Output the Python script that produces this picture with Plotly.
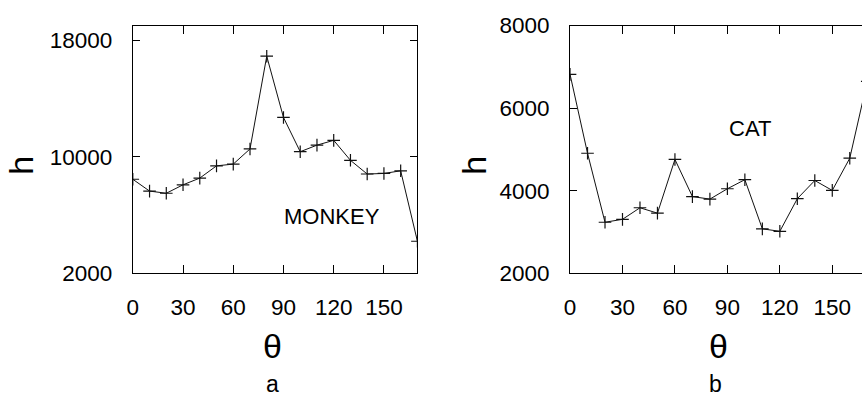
import plotly.graph_objects as go

theta = [0, 10, 20, 30, 40, 50, 60, 70, 80, 90, 100, 110, 120, 130, 140, 150, 160, 170]
h_monkey = [8460, 7650, 7500, 8080, 8540, 9380, 9500, 10540, 16900, 12700, 10350, 10800, 11130, 9760, 8820, 8860, 9040, 4210]
h_cat = [6820, 4910, 3240, 3310, 3590, 3460, 4760, 3860, 3800, 4050, 4270, 3080, 3020, 3810, 4250, 4010, 4790, 6650]

x_ticks = [0, 30, 60, 90, 120, 150]
y_ticks_monkey = [2000, 10000, 18000]
y_ticks_cat = [2000, 4000, 6000, 8000]

FONT = "Liberation Sans, Arial, sans-serif"
W, H = 862, 404

fig = go.Figure()
line_style = dict(color="#111111", width=1)
marker_style = dict(symbol="cross-thin", size=9, line=dict(color="#111111", width=1.2), color="#111111")

fig.add_trace(go.Scatter(x=theta, y=h_monkey, mode="lines+markers", line=line_style,
                         marker=marker_style, xaxis="x", yaxis="y", showlegend=False))
fig.add_trace(go.Scatter(x=theta, y=h_cat, mode="lines+markers", line=line_style,
                         marker=marker_style, xaxis="x2", yaxis="y2", showlegend=False))

ydom = [125.3 / H, 389.5 / H]
axis_common = dict(showgrid=False, zeroline=False, showline=True, linecolor="black", linewidth=1,
                   ticks="inside", tickcolor="black", tickwidth=1, tickformat="d",
                   tickfont=dict(family=FONT, size=22.5, color="black"))

fig.update_layout(
    width=W, height=H, margin=dict(l=0, r=0, t=0, b=0),
    paper_bgcolor="white", plot_bgcolor="white",
    xaxis=dict(domain=[127.7 / W, 414.3 / W], range=[0, 170], anchor="y", tickvals=x_ticks,
               mirror="ticks", ticklen=8, ticklabelstandoff=14, **axis_common),
    yaxis=dict(domain=ydom, range=[2000, 19000], anchor="x", tickvals=y_ticks_monkey,
               mirror="ticks", ticklen=7, ticklabelstandoff=15, **axis_common),
    xaxis2=dict(domain=[568 / W, 1.0], range=[0, 167], anchor="y2", tickvals=x_ticks,
                mirror="ticks", ticklen=8, ticklabelstandoff=14, **axis_common),
    yaxis2=dict(domain=ydom, range=[2000, 8000], anchor="x2", tickvals=y_ticks_cat,
                mirror=False, ticklen=7, ticklabelstandoff=15, **axis_common),
    yaxis3=dict(domain=ydom, range=[2000, 8000], overlaying="y2", anchor="free", position=1.0,
                side="right", tickvals=y_ticks_cat, showticklabels=False, showline=False,
                showgrid=False, zeroline=False, ticks="inside", ticklen=7, tickcolor="black", tickwidth=1),
)

def ann(text, x, y, size, angle=0, family=FONT):
    fig.add_annotation(text=text, x=x / W, y=1 - y / H, xref="paper", yref="paper",
                       showarrow=False, textangle=angle,
                       font=dict(family=family, size=size, color="black"),
                       xanchor="center", yanchor="middle")

ann("MONKEY", 328, 218, 22)
ann("CAT", 749.3, 124, 22)
ann("h", 15, 163, 34, angle=-90)
ann("h", 471, 163, 34, angle=-90)
ann("θ", 268, 356, 34)
ann("θ", 717.5, 356, 34)
ann("a", 268, 397, 23)
ann("b", 714, 397, 23)

fig.write_html("out.html")
